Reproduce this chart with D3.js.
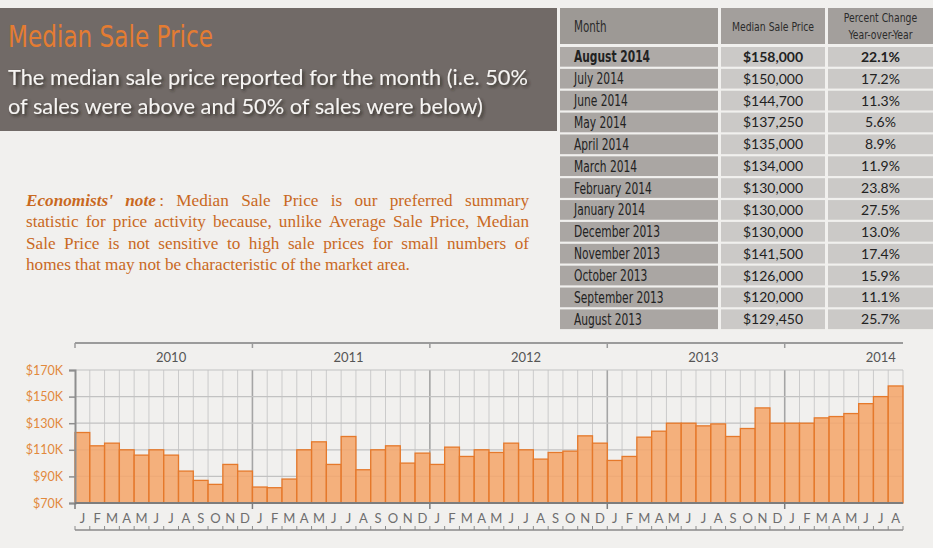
<!DOCTYPE html>
<html>
<head>
<meta charset="utf-8">
<script src="https://cdn.jsdelivr.net/npm/d3@7"></script>
<style>
  body { margin: 0; background: #f1f0ee; }
  #chart { position: relative; width: 933px; height: 548px; overflow: hidden; }
</style>
</head>
<body>
<div id="chart"></div>
<script>
const monthLetters = ["J","F","M","A","M","J","J","A","S","O","N","D"];
const years = [2010, 2011, 2012, 2013, 2014];
// median sale price, $K, Jan 2010 .. Aug 2014
const prices = [
  123, 113, 115, 110, 106, 110, 106, 94, 87, 84, 99, 94,
  82, 81.5, 88, 110, 116, 99, 120, 95, 110, 113, 100, 107.5,
  99, 112, 105, 110, 108, 115, 110, 103, 108, 109, 120.5, 115,
  102, 105, 119.5, 124, 130, 130, 128, 129.45, 120, 126, 141.5, 130,
  130, 130, 134, 135, 137.25, 144.7, 150, 158
];
const yTicks = [70, 90, 110, 130, 150, 170];

const tableMonths = ["August 2014","July 2014","June 2014","May 2014","April 2014","March 2014",
  "February 2014","January 2014","December 2013","November 2013","October 2013","September 2013","August 2013"];
const tablePrices = ["$158,000","$150,000","$144,700","$137,250","$135,000","$134,000",
  "$130,000","$130,000","$130,000","$141,500","$126,000","$120,000","$129,450"];
const tableChanges = ["22.1%","17.2%","11.3%","5.6%","8.9%","11.9%",
  "23.8%","27.5%","13.0%","17.4%","15.9%","11.1%","25.7%"];

const title = "Median Sale Price";
const subtitle = ["The median sale price reported for the month (i.e. 50%",
  "of sales were above and 50% of sales were below)"];
const noteLines = [
  "Median Sale Price is our preferred summary",
  "statistic for price activity because, unlike Average Sale Price, Median",
  "Sale Price is not sensitive to high sale prices for small numbers of",
  "homes that may not be characteristic of the market area."
];

const width = 933, height = 548;
const narrow = "'Liberation Sans Narrow','DejaVu Sans Condensed',Roboto,sans-serif";
const calib = "Lato,'Open Sans',sans-serif";
const serif = "'Liberation Serif','DejaVu Serif',serif";

const svg = d3.select("#chart").append("svg")
  .attr("width", width)
  .attr("height", height);

const defs = svg.append("defs");
defs.append("filter").attr("id", "shadow")
  .attr("x", "-5%").attr("y", "-20%").attr("width", "110%").attr("height", "150%")
  .append("feDropShadow")
  .attr("dx", 2).attr("dy", 2).attr("stdDeviation", 1.5)
  .attr("flood-color", "#2a2523").attr("flood-opacity", 0.8);

// no condensed face installed, so squeeze the glyphs horizontally
function narrowText(g, tx, ty, sx, size, txt, anchor) {
  return g.append("text")
    .attr("transform", `translate(${tx},${ty}) scale(${sx},1)`)
    .attr("text-anchor", anchor || "start")
    .style("font-family", narrow)
    .style("font-size", size + "px")
    .text(txt);
}

// header box
svg.append("rect")
  .attr("x", 0).attr("y", 8)
  .attr("width", 557).attr("height", 123)
  .attr("fill", "#716a67");

svg.append("text")
  .attr("x", 8).attr("y", 47)
  .attr("textLength", 205)
  .attr("lengthAdjust", "spacingAndGlyphs")
  .style("font-family", narrow)
  .style("font-size", "31px")
  .attr("fill", "#e47c32")
  .text(title);

svg.selectAll("text.sub")
  .data(subtitle)
  .enter()
  .append("text")
  .attr("class", "sub")
  .attr("x", 8)
  .attr("y", (d, i) => 85 + i * 29)
  .style("font-family", calib)
  .style("font-size", "21.8px")
  .attr("fill", "#f6f4f2")
  .attr("filter", "url(#shadow)")
  .text(d => d);

// table
const cols = [
  { x: 560, w: 158 },
  { x: 721, w: 104 },
  { x: 828, w: 105 }
];
const rowY = d3.scaleBand()
  .domain(d3.range(tableMonths.length))
  .range([47, 47 + 21.7 * tableMonths.length])
  .paddingInner(0.1);

const head = svg.append("g").attr("fill", "#2b2b2b");
cols.forEach((c, i) => {
  head.append("rect")
    .attr("x", c.x).attr("y", 8)
    .attr("width", c.w).attr("height", 36)
    .attr("fill", i === 0 ? "#9d9995" : "#a39f9c");
});
narrowText(head, 574, 31.5, 0.72, 16, "Month");
narrowText(head, cols[1].x + cols[1].w / 2, 30.5, 0.86, 12, "Median Sale Price", "middle");
narrowText(head, cols[2].x + cols[2].w / 2, 21.5, 0.86, 12, "Percent Change", "middle");
narrowText(head, cols[2].x + cols[2].w / 2, 38.5, 0.86, 12, "Year-over-Year", "middle");

const rows = svg.append("g")
  .selectAll("g.row")
  .data(tableMonths)
  .enter()
  .append("g")
  .attr("class", "row")
  .attr("transform", (d, i) => `translate(0, ${rowY(i)})`);

rows.append("rect")
  .attr("x", cols[0].x).attr("width", cols[0].w)
  .attr("height", rowY.bandwidth())
  .attr("fill", (d, i) => i === 0 ? "#aeaaa7" : "#aaa6a3");
rows.append("rect")
  .attr("x", cols[1].x).attr("width", cols[1].w)
  .attr("height", rowY.bandwidth())
  .attr("fill", "#cbc9c7");
rows.append("rect")
  .attr("x", cols[2].x).attr("width", cols[2].w)
  .attr("height", rowY.bandwidth())
  .attr("fill", "#cbc9c7");

rows.each(function (d, i) {
  narrowText(d3.select(this), 574, rowY.bandwidth() / 2 + 5.5, 0.72, 16.5, d)
    .style("font-weight", i === 0 ? "bold" : "normal")
    .attr("fill", "#222");
});
rows.append("text")
  .attr("x", cols[1].x + cols[1].w / 2).attr("y", rowY.bandwidth() / 2 + 5)
  .attr("text-anchor", "middle")
  .style("font-family", calib).style("font-size", "14px")
  .style("font-weight", (d, i) => i === 0 ? "bold" : "normal")
  .attr("fill", "#222")
  .text((d, i) => tablePrices[i]);
rows.append("text")
  .attr("x", cols[2].x + cols[2].w / 2).attr("y", rowY.bandwidth() / 2 + 5)
  .attr("text-anchor", "middle")
  .style("font-family", calib).style("font-size", "14px")
  .style("font-weight", (d, i) => i === 0 ? "bold" : "normal")
  .attr("fill", "#222")
  .text((d, i) => tableChanges[i]);

// economists' note, justified by hand
const noteX = 26, noteW = 503, noteY = 206, noteStep = 21.4;
const note = svg.append("g")
  .style("font-family", serif)
  .style("font-size", "17.2px")
  .attr("fill", "#c9691f");

noteLines.forEach((line, li) => {
  let tokens = line.split(" ").map(t => ({ t, bi: false }));
  if (li === 0) {
    tokens = [{ t: "Economists'", bi: true }, { t: "note", bi: true, colon: true }].concat(tokens);
  }
  const ty = noteY + li * noteStep;
  const nodes = tokens.map(tok => {
    const txt = note.append("text").attr("y", ty);
    txt.append("tspan")
      .style("font-weight", tok.bi ? "bold" : "normal")
      .style("font-style", tok.bi ? "italic" : "normal")
      .text(tok.t);
    if (tok.colon) txt.append("tspan").text("\u2009:");
    return txt;
  });
  const widths = nodes.map(n => n.node().getComputedTextLength());
  const total = d3.sum(widths);
  const last = li === noteLines.length - 1;
  const gap = last ? 4.2 : (noteW - total) / (nodes.length - 1);
  let cx = noteX;
  nodes.forEach((n, i) => {
    n.attr("x", cx);
    cx += widths[i] + gap;
  });
});

// bar chart
const x = d3.scaleBand()
  .domain(d3.range(prices.length))
  .range([75, 903])
  .padding(0);
const y = d3.scaleLinear()
  .domain([70, 170])
  .range([503, 370]);
const step = x.step();

const grid = svg.append("g");
grid.selectAll("line.v")
  .data(d3.range(1, prices.length + 1))
  .enter().append("line")
  .attr("x1", i => x(0) + i * step).attr("x2", i => x(0) + i * step)
  .attr("y1", y(170)).attr("y2", y(70))
  .attr("stroke", i => i % 12 === 0 ? "#a5a5a5" : "#cbcbcb")
  .attr("stroke-width", i => i % 12 === 0 ? 1.6 : 1);
grid.selectAll("line.h")
  .data(yTicks.slice(1))
  .enter().append("line")
  .attr("x1", 75).attr("x2", 903)
  .attr("y1", d => y(d)).attr("y2", d => y(d))
  .attr("stroke", "#c2c2c2")
  .attr("stroke-width", 1.2);

svg.append("g")
  .selectAll("rect.bar")
  .data(prices)
  .enter().append("rect")
  .attr("class", "bar")
  .attr("x", (d, i) => x(i))
  .attr("y", d => y(d))
  .attr("width", x.bandwidth())
  .attr("height", d => y(70) - y(d))
  .attr("fill", "#f4a66c")
  .attr("fill-opacity", 0.88)
  .attr("stroke", "#e5792b")
  .attr("stroke-width", 1.3);

// y axis
const yAxis = svg.append("g")
  .attr("transform", "translate(75,0)")
  .call(d3.axisLeft(y).tickValues(yTicks).tickSize(6).tickFormat(d => `$${d}K`));
yAxis.select(".domain").attr("stroke", "#8e8e8e").attr("stroke-width", 2);
yAxis.selectAll(".tick line").attr("stroke", "#8e8e8e").attr("stroke-width", 1.5);
yAxis.selectAll(".tick text")
  .attr("x", -12)
  .style("font-family", calib)
  .style("font-size", "12.5px")
  .attr("fill", "#e2893c");

// bottom axis line + year ticks
const bottom = svg.append("g");
bottom.append("line")
  .attr("x1", 75).attr("x2", 903)
  .attr("y1", 503).attr("y2", 503)
  .attr("stroke", "#7d7d7d").attr("stroke-width", 2);
bottom.selectAll("line.yt")
  .data(d3.range(0, prices.length, 12))
  .enter().append("line")
  .attr("x1", i => x(i)).attr("x2", i => x(i))
  .attr("y1", 503).attr("y2", 509)
  .attr("stroke", "#7d7d7d").attr("stroke-width", 1.5);

bottom.selectAll("text.m")
  .data(prices)
  .enter().append("text")
  .attr("x", (d, i) => x(i) + step / 2)
  .attr("y", 522.5)
  .attr("text-anchor", "middle")
  .style("font-family", calib)
  .style("font-size", "13px")
  .attr("fill", "#6e6e6e")
  .text((d, i) => monthLetters[i % 12]);

bottom.append("line")
  .attr("x1", 75).attr("x2", 903)
  .attr("y1", 530).attr("y2", 530)
  .attr("stroke", "#8a8a8a").attr("stroke-width", 1.5);
bottom.selectAll("line.mt")
  .data(d3.range(0, prices.length + 1))
  .enter().append("line")
  .attr("x1", i => x(0) + i * step).attr("x2", i => x(0) + i * step)
  .attr("y1", 526).attr("y2", 530)
  .attr("stroke", "#8a8a8a").attr("stroke-width", 1);

// year bracket on top
const yearBar = svg.append("g");
yearBar.append("line")
  .attr("x1", 75).attr("x2", 903)
  .attr("y1", 343).attr("y2", 343)
  .attr("stroke", "#9b9b9b").attr("stroke-width", 2);
yearBar.selectAll("line.yt")
  .data(d3.range(0, prices.length, 12))
  .enter().append("line")
  .attr("x1", i => x(i)).attr("x2", i => x(i))
  .attr("y1", 343).attr("y2", 348)
  .attr("stroke", "#9b9b9b").attr("stroke-width", 1.5);
yearBar.selectAll("text.yr")
  .data(years)
  .enter().append("text")
  .attr("x", (d, i) => x(i * 12 + 6) + step / 2)
  .attr("y", 362)
  .attr("text-anchor", "middle")
  .style("font-family", calib)
  .style("font-size", "13px")
  .attr("fill", "#555")
  .text(d => d);
</script>
</body>
</html>
